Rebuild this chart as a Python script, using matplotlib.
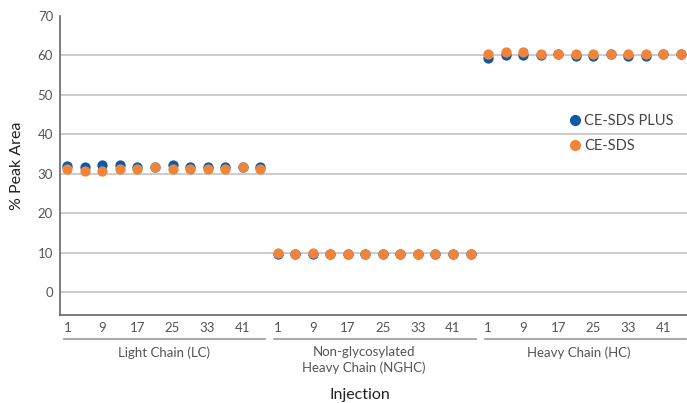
import numpy as np
import matplotlib.pyplot as plt
from matplotlib.lines import Line2D
from matplotlib.transforms import blended_transform_factory

plt.rcParams['font.family'] = ['Lato', 'DejaVu Sans']

# data
groups = ["Light Chain (LC)", "Non-glycosylated\nHeavy Chain (NGHC)", "Heavy Chain (HC)"]
injections = [1, 5, 9, 13, 17, 21, 25, 29, 33, 37, 41, 45]
tick_labels = ["1", "9", "17", "25", "33", "41"]

plus_lc = [32.0, 31.7, 32.2, 32.2, 31.7, 31.6, 32.2, 31.7, 31.7, 31.7, 31.6, 31.7]
plus_nghc = [9.6, 9.8, 9.6, 9.8, 9.8, 9.8, 9.8, 9.8, 9.8, 9.8, 9.8, 9.8]
plus_hc = [59.3, 60.0, 60.0, 60.0, 60.3, 59.9, 59.9, 60.3, 59.8, 59.8, 60.3, 60.3]

sds_lc = [31.2, 30.7, 30.8, 31.2, 31.2, 31.6, 31.2, 31.2, 31.2, 31.2, 31.6, 31.2]
sds_nghc = [10.0, 9.8, 10.0, 9.8, 9.8, 9.8, 9.8, 9.8, 9.8, 9.8, 9.8, 9.8]
sds_hc = [60.3, 60.75, 60.9, 60.3, 60.3, 60.2, 60.2, 60.3, 60.3, 60.3, 60.3, 60.3]

blue = "#0d5ba8"
orange = "#f0843a"
grey_txt = "#555555"

n = len(injections)
x = np.arange(3 * n)
plus = plus_lc + plus_nghc + plus_hc
sds = sds_lc + sds_nghc + sds_hc

fig = plt.figure(figsize=(6.87, 4.03), dpi=100)
ax = fig.add_axes([0.0873, 0.2184, 0.9127, 0.7427])

yt = [0, 10, 20, 30, 40, 50, 60]
for v in yt:
    ax.axhline(v, color="#c4c4c4", lw=1.2, zorder=1)

ax.scatter(x, plus, s=55, color=blue, zorder=3, linewidths=0)
ax.scatter(x, sds, s=55, color=orange, zorder=4, linewidths=0)

ax.set_xlim(-0.42, 35.35)
ax.set_ylim(-5.75, 70)
ax.set_yticks(yt + [70])
ax.set_yticklabels([str(v) for v in yt + [70]], color=grey_txt, fontsize=9.5)

xt = [g * n + i for g in range(3) for i in range(0, n, 2)]
ax.set_xticks(xt)
ax.set_xticklabels(tick_labels * 3, color=grey_txt, fontsize=9.5)
ax.tick_params(length=0, pad=5)

for s in ["top", "right"]:
    ax.spines[s].set_visible(False)
for s in ["left", "bottom"]:
    ax.spines[s].set_color("#666666")
    ax.spines[s].set_linewidth(1.2)

trans = blended_transform_factory(ax.transData, ax.transAxes)
label_x = [5.5, 16.9, 29.2]
for g in range(3):
    ax.plot([g * n - 0.2, g * n + 11.3], [-0.08, -0.08], color="#999999", lw=1.2,
            transform=trans, clip_on=False)
    ax.text(label_x[g], -0.105, groups[g], transform=trans, ha="center", va="top",
            fontsize=9.5, color=grey_txt, linespacing=1.3)

ax.set_ylabel("% Peak Area", fontsize=11.5, color="#222222", labelpad=10)
fig.text(0.524, 0.02, "Injection", ha="center", va="center", fontsize=11.5, color="#222222")

handles = [Line2D([], [], marker="o", ls="", color=blue, markersize=7),
           Line2D([], [], marker="o", ls="", color=orange, markersize=7)]
leg = fig.legend(handles, ["CE-SDS PLUS", "CE-SDS"], loc="center left",
                 bbox_to_anchor=(0.831, 0.6695), frameon=False, fontsize=10.5,
                 handlelength=0.6, handletextpad=0.3, labelspacing=0.75,
                 borderpad=0, borderaxespad=0)
for t in leg.get_texts():
    t.set_color("#444444")

fig.savefig("out.png", dpi=100)
